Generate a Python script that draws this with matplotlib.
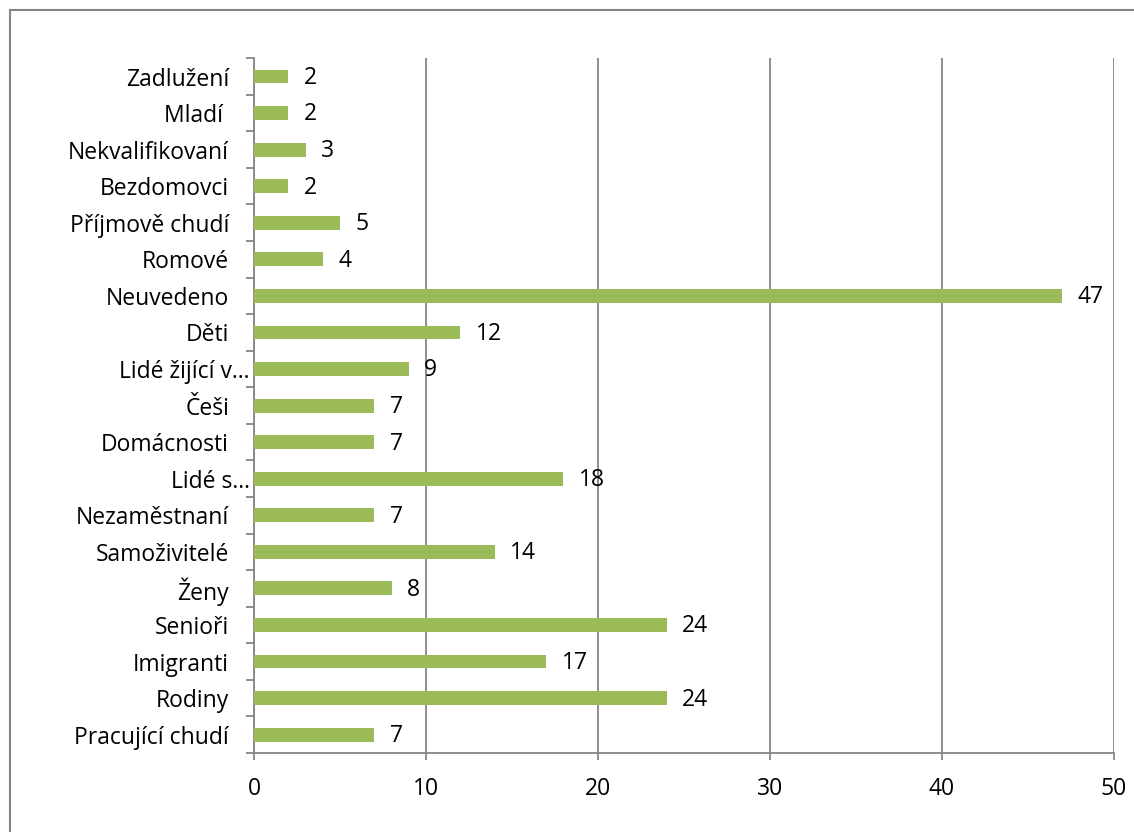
import matplotlib.pyplot as plt
import matplotlib.transforms as mtransforms
from matplotlib.patches import Rectangle

# categories listed bottom to top
categories = ["Pracující chudí", "Rodiny", "Imigranti", "Senioři", "Ženy",
              "Samoživitelé", "Nezaměstnaní", "Lidé s…", "Domácnosti", "Češi",
              "Lidé žijící v…", "Děti", "Neuvedeno", "Romové", "Příjmově chudí",
              "Bezdomovci", "Nekvalifikovaní", "Mladí ", "Zadlužení"]
values = [7, 24, 17, 24, 8, 14, 7, 18, 7, 7, 9, 12, 47, 4, 5, 2, 3, 2, 2]
xticks = [0, 10, 20, 30, 40, 50]

plt.rcParams['font.family'] = ['Open Sans', 'DejaVu Sans']
grey = '#868686'
fs = 16.5

fig = plt.figure(figsize=(11.34, 8.32), dpi=100)
ax = fig.add_axes([0.224, 0.095, 0.758, 0.835])

pos = list(range(len(categories)))
ax.barh(pos, values, height=0.38, color='#9BBB59', zorder=3)

for p, v in zip(pos, values):
    ax.annotate(str(v), xy=(v, p), xytext=(11, -1), textcoords='offset points',
                ha='left', va='center', fontsize=fs, color='black')

ax.set_xlim(0, 50)
ax.set_ylim(-0.5, len(categories) - 0.5)
ax.set_xticks(xticks)
ax.set_yticks(pos)
ax.set_yticklabels(categories)
ax.set_yticks([p - 0.5 for p in pos] + [len(pos) - 0.5], minor=True)

ax.tick_params(axis='y', which='major', length=0, pad=18, labelsize=fs)
ax.tick_params(axis='y', which='minor', length=6, width=1.3, color=grey)
ax.tick_params(axis='x', length=5, width=1.3, color=grey, pad=12, labelsize=fs)

# truncated labels sit closer to the axis
for lab in ax.get_yticklabels():
    if lab.get_text().endswith('…'):
        off = mtransforms.ScaledTranslation(15 / 72, 0, fig.dpi_scale_trans)
        lab.set_transform(lab.get_transform() + off)

ax.grid(axis='x', color=grey, linewidth=1.3, zorder=0)
for s in ['top', 'right']:
    ax.spines[s].set_visible(False)
for s in ['left', 'bottom']:
    ax.spines[s].set_color(grey)
    ax.spines[s].set_linewidth(1.3)

# chart frame (cut off at right and bottom)
fig.patches.append(Rectangle((10 / 1134, -0.1), 1.2, 1 - 10 / 832 + 0.1,
                             transform=fig.transFigure, fill=False,
                             edgecolor=grey, linewidth=1.5))

plt.savefig('out.png', dpi=100)
